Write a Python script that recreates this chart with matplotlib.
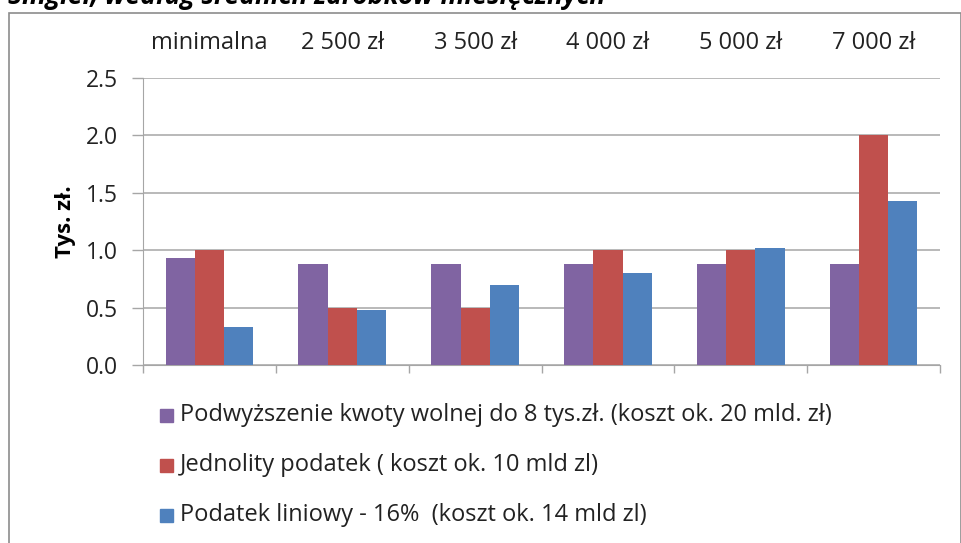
import matplotlib.pyplot as plt
import matplotlib.patches as patches
import numpy as np

# categories (average monthly earnings) and series values in thousands zł
categories = ['minimalna', '2 500 zł', '3 500 zł', '4 000 zł', '5 000 zł', '7 000 zł']
kwota_wolna = [0.93, 0.88, 0.88, 0.88, 0.88, 0.88]
jednolity = [1.00, 0.50, 0.50, 1.00, 1.00, 2.00]
liniowy = [0.33, 0.48, 0.70, 0.80, 1.02, 1.43]
series_labels = [
    'Podwyższenie kwoty wolnej do 8 tys.zł. (koszt ok. 20 mld. zł)',
    'Jednolity podatek ( koszt ok. 10 mld zl)',
    'Podatek liniowy - 16%  (koszt ok. 14 mld zl)',
]
y_ticks = [0.0, 0.5, 1.0, 1.5, 2.0, 2.5]

colors = ['#8064A2', '#C0504D', '#4F81BD']
font = 'Open Sans'

fig = plt.figure(figsize=(9.62, 5.43), dpi=100)
fig.patch.set_facecolor('white')

# outer chart frame (partly outside the image)
frame = patches.Rectangle((0.009, -0.1), 0.99, 1.076, transform=fig.transFigure,
                          fill=False, edgecolor='#8c8c8c', linewidth=1.2)
fig.patches.append(frame)

# cut-off title above the frame
fig.text(0.008, 0.993, 'Singiel, według średnich zarobków miesięcznych',
         fontsize=19, fontweight='bold', fontstyle='italic', family=font,
         va='baseline', ha='left')

ax = fig.add_axes([0.1487, 0.3278, 0.8285, 0.5286])

x = np.arange(len(categories))
w = 0.22
for i, (vals, c) in enumerate(zip([kwota_wolna, jednolity, liniowy], colors)):
    ax.bar(x + (i - 1) * w, vals, width=w, color=c, zorder=3)

ax.set_xlim(-0.5, len(categories) - 0.5)
ax.set_ylim(0, 2.5)
ax.set_yticks(y_ticks)
ax.set_yticklabels([f'{v:.1f}' for v in y_ticks], fontsize=16.5, family=font,
                   color='#222222')
ax.yaxis.grid(True, color='#a6a6a6', linewidth=1.1, zorder=0)
ax.tick_params(axis='y', length=8, width=1.0, color='#a6a6a6', pad=10)

ax.set_xticks(np.arange(len(categories) + 1) - 0.5)
ax.set_xticklabels([])
ax.tick_params(axis='x', length=6, width=1.0, color='#a6a6a6', direction='out')

for s in ['top', 'right']:
    ax.spines[s].set_visible(False)
ax.spines['left'].set_color('#a6a6a6')
ax.spines['bottom'].set_color('#a6a6a6')

ax.set_ylabel('Tys. zł.', fontsize=16, fontweight='bold', family=font, labelpad=7)

# category labels on top
for xi, lab in zip(x, categories):
    ax.text(xi, 1.0 + 35 / 287 * 1.0, lab, transform=ax.get_xaxis_transform(),
            ha='center', va='center', fontsize=17, family=font, color='#222222')

# legend, drawn manually as stacked rows
for k, (lab, c) in enumerate(zip(series_labels, colors)):
    yy = 1 - (415 + 50 * k) / 543
    fig.patches.append(patches.Rectangle((160 / 962, yy - 6.5 / 543), 13 / 962, 13 / 543,
                                         transform=fig.transFigure, color=c))
    fig.text(180 / 962, yy, lab, fontsize=17, family=font, va='center', ha='left',
             color='#222222')

plt.savefig('out.png', dpi=100, facecolor='white')
